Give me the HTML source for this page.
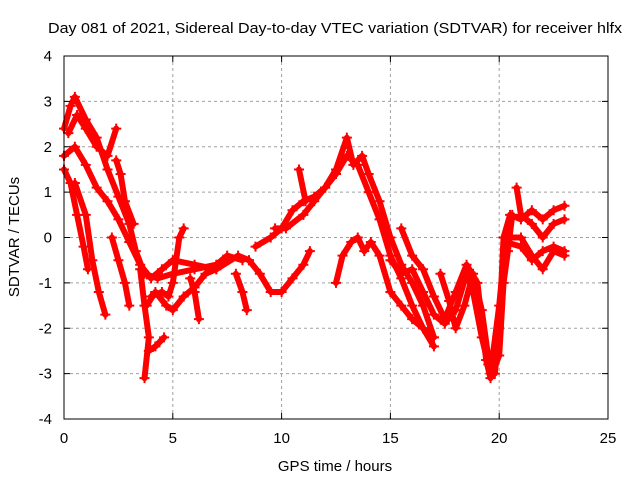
<!DOCTYPE html>
<html><head><meta charset="utf-8"><style>
body{margin:0;background:#fff;}
svg{display:block;font-family:"Liberation Sans","DejaVu Sans",sans-serif;}
</style></head><body>
<svg id="chart" width="640" height="480" viewBox="0 0 640 480">
<rect x="0" y="0" width="640" height="480" fill="#fff"/>
<text x="48" y="33" font-size="15" textLength="574" lengthAdjust="spacingAndGlyphs">Day 081 of 2021, Sidereal Day-to-day VTEC variation (SDTVAR) for receiver hlfx</text>
<g id="grid"></g>
<g id="series"></g>
<rect x="64" y="56" width="544" height="363" fill="none" stroke="#000" stroke-width="1"/>
<g id="ticks"></g>
<text x="335" y="471" font-size="15" text-anchor="middle">GPS time / hours</text>
<text x="19" y="237" font-size="15" text-anchor="middle" transform="rotate(-90 19 237)">SDTVAR / TECUs</text>
</svg>
<script>
const xTicks = [0,5,10,15,20,25];
const yTicks = [-4,-3,-2,-1,0,1,2,3,4];
const trackA = [[0,2.4],[0.3,2.9],[0.5,3.1],[1.0,2.6],[1.5,2.2],[2.0,1.5],[2.5,0.9],[3.0,0.3],[3.3,-0.3],[3.7,-0.8],[4.3,-0.9],[5,-0.8],[6,-0.7],[7,-0.6],[7.5,-0.4],[8.2,-0.5]];
const trackB = [[0,1.8],[0.5,2.0],[1.0,1.6],[1.5,1.1],[2,0.8],[2.5,0.4],[3,-0.1],[3.5,-0.6],[4,-0.9],[4.5,-0.7],[5,-0.5],[6,-0.6],[7,-0.7],[8,-0.4],[8.5,-0.5]];
const trackC = [[0,1.5],[0.3,1.2],[0.6,0.5],[0.9,-0.2],[1.1,-0.7]];
const trackD = [[0.5,1.2],[1.0,0.5],[1.3,-0.5],[1.6,-1.2],[1.9,-1.7]];
const trackE = [[2.2,0.0],[2.5,-0.5],[2.8,-1.0],[3.0,-1.5]];
const trackF = [[0.2,2.3],[0.6,2.7],[1.0,2.4],[1.5,2.0],[2.0,1.8],[2.4,2.4]];
const trackG = [[2.4,1.7],[2.6,1.4],[2.8,0.8],[3.2,0.3]];
const trackH = [[3.5,-0.7],[3.7,-1.5],[3.9,-2.2],[3.7,-3.1]];
const trackH2 = [[3.9,-2.5],[4.2,-2.4],[4.6,-2.2]];
const trackI = [[4,-1.3],[4.5,-1.2],[4.8,-1.3],[5,-1.0],[5.3,0.0],[5.5,0.2]];
const trackJ = [[3.8,-1.5],[4.2,-1.2],[4.7,-1.5],[5,-1.6],[5.5,-1.3],[6,-1.1],[6.5,-0.8],[7,-0.7]];
const trackK = [[5.8,-0.9],[6.0,-1.2],[6.2,-1.8]];
const trackL = [[7.9,-0.8],[8.2,-1.2],[8.4,-1.6]];
const trackM = [[8.5,-0.5],[9,-0.8],[9.5,-1.2],[10,-1.2],[10.5,-0.9],[11,-0.6],[11.3,-0.3]];
const trackN = [[8.8,-0.2],[9.5,0.0],[10,0.2],[10.5,0.6],[11,0.8],[11.5,0.9],[12,1.1],[12.5,1.5],[13,2.2],[13.3,1.6],[13.7,1.8],[14,1.4],[14.5,0.8],[15,0.0],[15.5,-0.6],[16,-1.0],[16.5,-1.5],[17,-2.2]];
const trackO = [[9.7,0.2],[10.2,0.2],[11,0.5],[11.5,0.8],[12,1.1],[12.5,1.4],[13,1.8],[13.5,1.6],[14,1.0],[14.5,0.4],[15,-0.4],[15.5,-0.9],[16,-1.5],[16.5,-2.0],[17,-2.4]];
const trackP = [[10.8,1.5],[11.1,0.8]];
const trackQ = [[12.5,-1.0],[12.8,-0.4],[13.2,-0.1],[13.5,0.0],[13.8,-0.3],[14.1,-0.1],[14.5,-0.4],[15,-1.2],[15.5,-1.5],[16,-1.8],[16.5,-2.0],[17,-2.2]];
const trackR = [[15.5,0.2],[16,-0.4],[16.5,-0.7],[17,-1.3],[17.5,-1.8],[18,-1.2],[18.5,-0.6],[19,-1.0],[19.4,-2.7],[19.6,-3.1],[20,-2.6],[20.2,-1.0],[20.4,-0.3],[20.6,0.5]];
const trackS = [[15,-0.5],[15.5,-0.8],[16,-0.7],[16.5,-1.2],[17,-1.7],[17.5,-1.9],[18,-1.6],[18.5,-0.8],[18.8,-1.2],[19.2,-2.2],[19.5,-2.8],[19.8,-3.0],[20,-2.0],[20.2,0.0],[20.5,0.5],[21,0.4],[21.5,0.6],[22,0.4],[22.5,0.6],[23,0.7]];
const trackT = [[17.3,-0.8],[17.7,-1.4],[18,-2.0],[18.4,-1.5],[18.8,-0.8],[19.2,-1.6],[19.6,-3.0],[20,-1.5],[20.3,0.0],[21,0.0],[21.5,-0.4],[22,-0.7],[22.5,-0.3],[23,-0.4]];
const trackU = [[20.8,1.1],[21,0.5],[21.5,0.3],[22,0.0],[22.5,0.3],[23,0.4]];
const trackV = [[20.3,-0.1],[21,-0.2],[21.5,-0.5],[22,-0.3],[22.5,-0.2],[23,-0.3]];
const tracks = [trackA,trackB,trackC,trackD,trackE,trackF,trackG,trackH,trackH2,trackI,trackJ,trackK,trackL,trackM,trackN,trackO,trackP,trackQ,trackR,trackS,trackT,trackU,trackV];

const NS = "http://www.w3.org/2000/svg";
const X0=64, X1=608, Y0=419, Y1=56;
function sx(v){return X0+(v-0)/(25-0)*(X1-X0);}
function sy(v){return Y0-(v+4)/8*(Y0-Y1);}
function mk(tag, attrs, parent){const e=document.createElementNS(NS,tag);for(const k in attrs)e.setAttribute(k,attrs[k]);parent.appendChild(e);return e;}
const grid=document.getElementById('grid'), ticks=document.getElementById('ticks'), ser=document.getElementById('series');
xTicks.forEach(t=>{
  const x=sx(t);
  if(t>0&&t<25){const g=mk('line',{x1:x,x2:x,y1:Y1,y2:Y0,stroke:'#a0a0a0','stroke-dasharray':'3,3'},grid);
  
  }
  mk('line',{x1:x,x2:x,y1:Y0,y2:Y0-6,stroke:'#000'},ticks);
  mk('line',{x1:x,x2:x,y1:Y1,y2:Y1+6,stroke:'#000'},ticks);
  const l=mk('text',{x:x,y:Y0+24,'font-size':15,'text-anchor':'middle'},ticks);l.textContent=t;
  
  
});
yTicks.forEach(t=>{
  const y=sy(t);
  if(t>-4&&t<4){const g=mk('line',{x1:X0,x2:X1,y1:y,y2:y,stroke:'#a0a0a0','stroke-dasharray':'3,3'},grid);
  
  }
  mk('line',{x1:X0,x2:X0+6,y1:y,y2:y,stroke:'#000'},ticks);
  mk('line',{x1:X1,x2:X1-6,y1:y,y2:y,stroke:'#000'},ticks);
  const l=mk('text',{x:X0-12,y:y+5,'font-size':15,'text-anchor':'end'},ticks);l.textContent=t;
  
  
});
tracks.forEach(tr=>{
  const pts=tr.map(p=>sx(p[0])+','+sy(p[1])).join(' ');
  const pl=mk('polyline',{points:pts,fill:'none',stroke:'#ff0000','stroke-width':6,'stroke-linejoin':'round','stroke-linecap':'round'},ser);
  
  
  tr.forEach(p=>{
    const x=sx(p[0]), y=sy(p[1]);
    const m=mk('path',{d:`M${x-5},${y}H${x+5}M${x},${y-5}V${y+5}`,stroke:'#ff0000','stroke-width':2},ser);
    
    
  });
});
</script>
</body></html>
